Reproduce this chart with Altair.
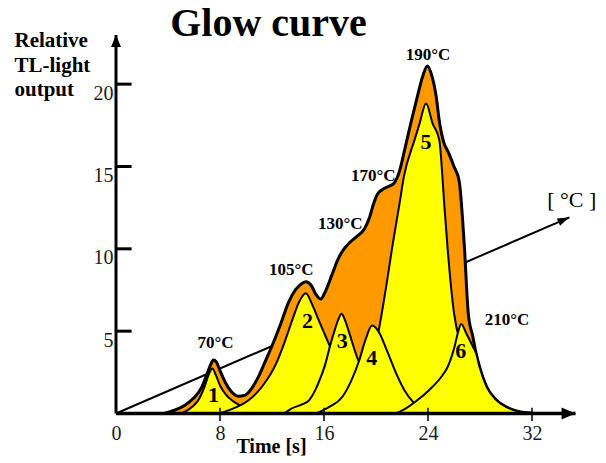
import altair as alt
import pandas as pd

# ---------------- data ----------------
# glow curve (total, orange envelope): time [s] / relative TL output
env_t = [3.7, 4.5, 5.3, 6.0, 6.6, 7.0, 7.3, 7.5, 7.7, 8.0, 8.4, 8.9, 9.4, 9.9, 10.5, 11.0,
         11.5, 12.0, 12.6, 13.3, 13.8, 14.3, 14.6, 15.0, 15.4, 15.75, 16.1, 16.6, 17.1, 17.5,
         18.0, 18.6, 19.1, 19.5, 19.8, 20.1, 20.5, 21.0, 21.4, 21.8, 22.2, 22.7, 23.2, 23.6,
         23.95, 24.3, 24.6, 24.9, 25.2, 25.6, 26.0, 26.4, 26.8, 27.1, 27.45, 27.7, 27.96, 28.5,
         29.25, 30.0, 30.8, 31.6, 32.2]
env_v = [0, 0.2, 0.5, 0.95, 1.6, 2.4, 3.0, 3.25, 3.15, 2.6, 1.9, 1.3, 1.05, 1.1, 1.6, 2.3,
         3.2, 4.1, 5.3, 6.8, 7.5, 7.9, 8.0, 7.8, 7.2, 6.95, 7.4, 8.4, 9.4, 9.95,
         10.4, 10.8, 11.2, 11.9, 12.7, 13.3, 13.6, 13.8, 14.0, 14.7, 16.0, 17.7, 19.3, 20.5,
         21.1, 20.5, 19.4, 17.6, 16.5, 15.8, 15.0, 14.1, 10.1, 6.05, 4.66, 3.65, 2.84, 1.63,
         0.82, 0.4, 0.15, 0.04, 0]

# individual peaks (yellow)
p1_t = [5.0, 5.6, 6.0, 6.4, 6.8, 7.1, 7.4, 7.7, 8.0, 8.45, 9.0, 9.5, 10.2, 10.8]
p1_v = [0, 0.25, 0.5, 0.9, 1.6, 2.3, 2.73, 2.3, 1.7, 1.15, 0.75, 0.5, 0.2, 0]

p2_t = [7.9, 9.0, 10.2, 11.3, 12.3, 13.0, 13.55, 14.1, 14.6, 15.1, 15.6, 16.5, 17.2, 17.9, 18.5, 19.2, 20.5]
p2_v = [0, 0.3, 0.8, 1.7, 3.0, 4.4, 5.65, 6.8, 7.3, 6.6, 5.65, 4.0, 2.8, 1.8, 1.1, 0.6, 0]

p3_t = [12.9, 13.5, 14.3, 14.85, 15.6, 16.1, 16.5, 16.8, 17.1, 17.35, 17.6, 17.9, 18.55, 19.2, 20.0, 20.8, 21.5, 22.5]
p3_v = [0, 0.3, 0.55, 0.8, 1.9, 3.0, 4.2, 5.0, 5.7, 6.05, 5.7, 5.0, 3.4, 2.3, 1.4, 0.8, 0.4, 0]

p4_t = [15.4, 16.4, 17.4, 18.1, 18.7, 19.2, 19.7, 20.27, 20.75, 21.55, 22.2, 22.83, 23.6, 24.5]
p4_v = [0, 0.4, 1.0, 2.0, 3.2, 4.5, 5.34, 4.87, 4.0, 2.44, 1.4, 0.72, 0.25, 0]

p5_t = [17.5, 18.7, 19.6, 20.2, 20.8, 21.25, 21.8, 22.15, 22.96, 23.35, 23.85, 24.36, 24.87,
        25.1, 25.25, 25.5, 26.0, 26.6, 27.5, 28.5, 30.0]
p5_v = [0, 1.0, 2.8, 5.0, 7.8, 10.1, 12.7, 14.4, 16.6, 17.6, 18.83, 17.6, 16.6,
        14.5, 12.7, 10.1, 6.1, 4.0, 2.0, 0.8, 0]

p6_t = [21.5, 22.06, 23.0, 24.1, 25.0, 25.52, 26.04, 26.3, 26.55, 26.94, 27.45, 27.7, 27.96,
        28.5, 29.25, 30.0, 30.8, 31.6, 32.2]
p6_v = [0, 0.2, 0.7, 1.43, 2.2, 2.84, 4.06, 4.9, 5.43, 4.87, 4.06, 3.65, 2.84,
        1.63, 0.82, 0.4, 0.15, 0.04, 0]

# temperature ramp line (arrow)
ramp_t = [0, 34.88]
ramp_v = [0, 11.91]

# peak temperature labels
temp_labels = ["70°C", "105°C", "130°C", "170°C", "190°C", "210°C"]
temp_t = [7.65, 13.48, 17.25, 19.79, 24.0, 30.08]
temp_v = [3.98, 8.44, 11.21, 14.13, 21.45, 5.40]

# peak numbers
peak_labels = ["1", "2", "3", "4", "5", "6"]
peak_t = [7.5, 14.73, 17.41, 19.67, 23.85, 26.52]
peak_v = [0.70, 5.17, 3.96, 2.94, 16.06, 3.35]

# axes
x_label_values = [0, 8, 16, 24, 32]
x_tick_values = [8, 16, 24, 32]
y_tick_values = [5, 10, 15, 20]
x_axis_end = 35.35
y_axis_end = 22.98

# texts
title_text = "Glow curve"
title_pos = (11.73, 22.92)
ylab_lines = ["Relative", "TL-light", "output"]
ylab_t = -7.81
ylab_v = [22.25, 20.73, 19.28]
xlab_text = "Time [s]"
xlab_pos = (11.96, -2.4)
unit_text = "[ °C ]"
unit_pos = (36.95, 12.56)   # right edge of the text

ORANGE = "#FF9900"
YELLOW = "#FFFF00"
SERIF = "Liberation Serif"

# ---------------- chart ----------------
xs = alt.Scale(domain=[0, 36], nice=False, zero=False)
ys = alt.Scale(domain=[0, 23.5], nice=False, zero=False)
xaxis = alt.Axis(values=x_label_values, domain=False, ticks=False, tickSize=0, grid=False,
                 labelFont=SERIF, labelFontSize=20, labelColor="#1a1a1a", labelPadding=10,
                 labelFlush=False, labelOverlap=False)
yaxis = alt.Axis(values=y_tick_values, domain=False, ticks=False, tickSize=0, grid=False,
                 labelFont=SERIF, labelFontSize=20, labelColor="#1a1a1a", labelPadding=3,
                 labelOffset=9, labelFlush=False, labelOverlap=False)


def X(f="t"):
    return alt.X(f"{f}:Q", scale=xs, axis=xaxis, title=None)


def Y(f="v"):
    return alt.Y(f"{f}:Q", scale=ys, axis=yaxis, title=None)


layers = []

# temperature ramp line
ramp_df = pd.DataFrame({"t": ramp_t, "v": ramp_v})
layers.append(alt.Chart(ramp_df).mark_line(color="black", strokeWidth=2).encode(x=X(), y=Y()))

# envelope
env_df = pd.DataFrame({"t": env_t, "v": env_v})
layers.append(alt.Chart(env_df).mark_area(fill=ORANGE, stroke="black", strokeWidth=3,
                                          interpolate="monotone", strokeJoin="round")
              .encode(x=X(), y=Y()))

peaks = {1: (p1_t, p1_v), 2: (p2_t, p2_v), 3: (p3_t, p3_v),
         4: (p4_t, p4_v), 5: (p5_t, p5_v), 6: (p6_t, p6_v)}
for k in [5, 1, 2, 3, 4, 6]:
    t, v = peaks[k]
    df = pd.DataFrame({"t": t, "v": v})
    layers.append(alt.Chart(df).mark_area(fill=YELLOW, stroke="black", strokeWidth=2,
                                          interpolate="monotone", strokeJoin="round")
                  .encode(x=X(), y=Y()))

# axis lines
xaxis_df = pd.DataFrame({"t": [0], "t2": [x_axis_end], "v": [0]})
layers.append(alt.Chart(xaxis_df).mark_rule(color="black", strokeWidth=3.5)
              .encode(x=X(), x2="t2:Q", y=Y()))
yaxis_df = pd.DataFrame({"t": [0], "v": [0], "v2": [y_axis_end]})
layers.append(alt.Chart(yaxis_df).mark_rule(color="black", strokeWidth=3)
              .encode(x=X(), y=Y(), y2="v2:Q"))

# ticks
xt_df = pd.DataFrame({"t": x_tick_values, "v": [-0.46] * len(x_tick_values),
                      "v2": [0.35] * len(x_tick_values)})
layers.append(alt.Chart(xt_df).mark_rule(color="black", strokeWidth=1.5)
              .encode(x=X(), y=Y(), y2="v2:Q"))
yt_df = pd.DataFrame({"t": [0] * len(y_tick_values), "t2": [1.2] * len(y_tick_values),
                      "v": y_tick_values})
layers.append(alt.Chart(yt_df).mark_rule(color="black", strokeWidth=3)
              .encode(x=X(), x2="t2:Q", y=Y()))

# arrowheads
ax_df = pd.DataFrame({"t": [x_axis_end], "v": [0]})
layers.append(alt.Chart(ax_df).mark_point(shape="M0,0L-2,-0.857L-2,0.857Z", filled=True,
                                          color="black", size=196, opacity=1, strokeWidth=0)
              .encode(x=X(), y=Y()))
ay_df = pd.DataFrame({"t": [0], "v": [y_axis_end]})
layers.append(alt.Chart(ay_df).mark_point(shape="M0,0L-0.833,2L0.833,2Z", filled=True,
                                          color="black", size=144, opacity=1, strokeWidth=0)
              .encode(x=X(), y=Y()))
ar_df = pd.DataFrame({"t": [ramp_t[1]], "v": [ramp_v[1]]})
layers.append(alt.Chart(ar_df).mark_point(shape="M0,0L-2,-0.667L-2,0.667Z", filled=True,
                                          color="black", size=144, opacity=1, strokeWidth=0,
                                          angle=336.6)
              .encode(x=X(), y=Y()))

# temperature labels
tl_df = pd.DataFrame({"t": temp_t, "v": temp_v, "s": temp_labels})
layers.append(alt.Chart(tl_df).mark_text(font=SERIF, fontSize=17, fontWeight="bold",
                                         color="black", align="center", baseline="alphabetic")
              .encode(x=X(), y=Y(), text="s:N"))

# peak numbers
pl_df = pd.DataFrame({"t": peak_t, "v": peak_v, "s": peak_labels})
layers.append(alt.Chart(pl_df).mark_text(font=SERIF, fontSize=22, fontWeight="bold",
                                         color="black", align="center", baseline="alphabetic")
              .encode(x=X(), y=Y(), text="s:N"))

# title
ti_df = pd.DataFrame({"t": [title_pos[0]], "v": [title_pos[1]], "s": [title_text]})
layers.append(alt.Chart(ti_df).mark_text(font=SERIF, fontSize=40, fontWeight="bold",
                                         color="black", align="center", baseline="alphabetic")
              .encode(x=X(), y=Y(), text="s:N"))

# y axis title (three lines)
yl_df = pd.DataFrame({"t": [ylab_t] * 3, "v": ylab_v, "s": ylab_lines})
layers.append(alt.Chart(yl_df).mark_text(font=SERIF, fontSize=21, fontWeight="bold",
                                         color="black", align="left", baseline="alphabetic")
              .encode(x=X(), y=Y(), text="s:N"))

# x axis title
xl_df = pd.DataFrame({"t": [xlab_pos[0]], "v": [xlab_pos[1]], "s": [xlab_text]})
layers.append(alt.Chart(xl_df).mark_text(font=SERIF, fontSize=20, fontWeight="bold",
                                         color="black", align="center", baseline="alphabetic")
              .encode(x=X(), y=Y(), text="s:N"))

# unit of ramp
un_df = pd.DataFrame({"t": [unit_pos[0]], "v": [unit_pos[1]], "s": [unit_text]})
layers.append(alt.Chart(un_df).mark_text(font=SERIF, fontSize=22, color="black",
                                         align="right", baseline="alphabetic")
              .encode(x=X(), y=Y(), text="s:N"))

chart = alt.layer(*layers).properties(
    width=468, height=387,
    autosize=alt.AutoSizeParams(type="none"),
    padding={"left": 108, "top": 18.5, "right": 14, "bottom": 48},
    background="white",
).configure_view(stroke=None)

chart.save("out.html", embed_options={"renderer": "svg", "actions": False})
